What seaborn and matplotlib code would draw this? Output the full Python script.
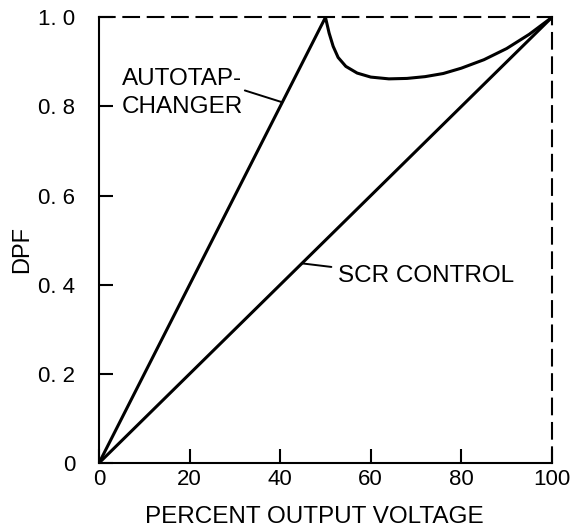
import matplotlib
matplotlib.use("Agg")
import matplotlib.pyplot as plt
import pandas as pd
import seaborn as sns

# values
scr_x = [0, 100]
scr_y = [0.0, 1.0]

tap_x = [0, 50, 50.8, 51.7, 52.8, 54.5, 57, 60, 64, 68, 72, 76, 80, 85, 90, 95, 100]
tap_y = [0.0, 1.0, 0.965, 0.935, 0.91, 0.89, 0.875, 0.866, 0.862, 0.863, 0.867,
         0.874, 0.886, 0.905, 0.93, 0.962, 1.0]

x_ticks = [0, 20, 40, 60, 80, 100]
y_ticks = [0, 0.2, 0.4, 0.6, 0.8, 1.0]
y_tick_labels = ['0', '0. 2', '0. 4', '0. 6', '0. 8', '1. 0']

sns.set_style("ticks")
plt.rcParams['font.family'] = ['Liberation Sans', 'DejaVu Sans']
plt.rcParams['text.color'] = 'black'
plt.rcParams['axes.labelcolor'] = 'black'

df = pd.concat([
    pd.DataFrame({'pct': tap_x, 'dpf': tap_y, 'mode': 'AUTOTAP-CHANGER'}),
    pd.DataFrame({'pct': scr_x, 'dpf': scr_y, 'mode': 'SCR CONTROL'}),
])

fig = plt.figure(figsize=(5.74, 5.31), dpi=100)
ax = fig.add_axes([0.1725, 0.128, 0.789, 0.8393])

sns.lineplot(data=df, x='pct', y='dpf', hue='mode', palette=['black', 'black'],
             linewidth=2.2, sort=False, estimator=None, legend=False, ax=ax)

ax.set_xlim(0, 100)
ax.set_ylim(0, 1.0)
ax.set_xticks(x_ticks)
ax.set_xticklabels([str(v) for v in x_ticks])
ax.set_yticks(y_ticks)
ax.set_yticklabels(y_tick_labels)

ax.tick_params(axis='both', direction='in', length=10, width=1.5,
               labelsize=16, colors='black')
ax.tick_params(axis='x', pad=4)
ax.tick_params(axis='y', pad=17)

for side in ['left', 'bottom']:
    ax.spines[side].set_linewidth(1.5)
    ax.spines[side].set_color('black')
for side in ['top', 'right']:
    ax.spines[side].set_visible(True)
    ax.spines[side].set_linewidth(1.5)
    ax.spines[side].set_color('black')
    ax.spines[side].set_linestyle((0, (7.5, 4.2)))

ax.set_xlabel('PERCENT OUTPUT VOLTAGE', fontsize=17.5)
ax.set_ylabel('DPF', fontsize=17)
ax.xaxis.set_label_coords(0.475, -0.096)
ax.yaxis.set_label_coords(-0.146, 0.48)

# curve labels with leader lines
ax.text(5.0, 0.848, 'AUTOTAP-', fontsize=17.5, ha='left', va='baseline')
ax.text(5.0, 0.785, 'CHANGER', fontsize=17.5, ha='left', va='baseline')
ax.plot([32.2, 40.3], [0.836, 0.81], color='black', linewidth=1.4)

ax.text(52.7, 0.406, 'SCR CONTROL', fontsize=17.5, ha='left', va='baseline')
ax.plot([44.8, 51.3], [0.448, 0.440], color='black', linewidth=1.4)

fig.savefig('out.png', dpi=100)
